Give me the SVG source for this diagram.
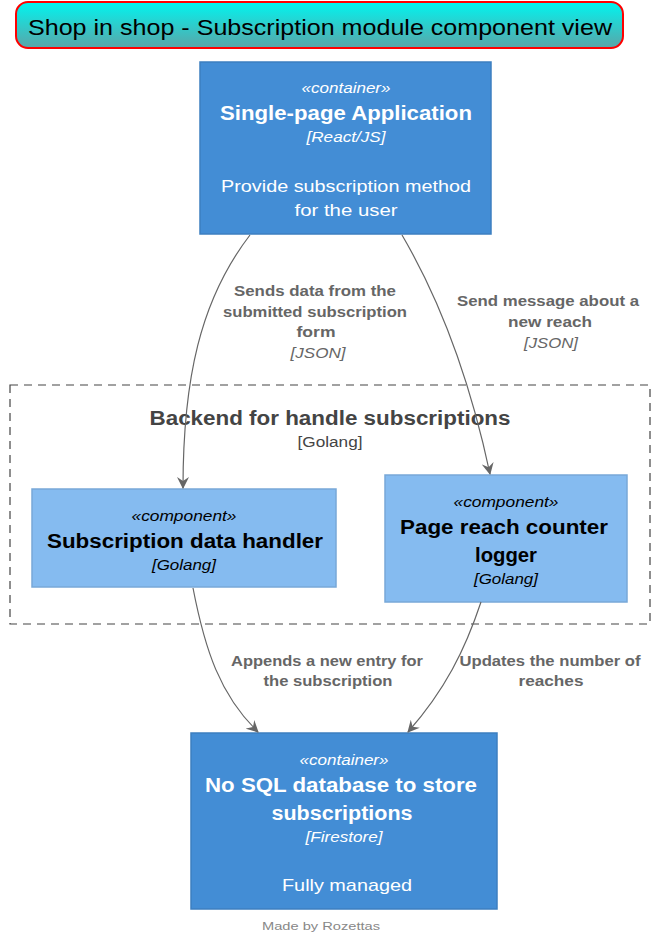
<svg xmlns="http://www.w3.org/2000/svg" width="657" height="941" viewBox="0 0 657 941">
<defs>
<linearGradient id="tg" x1="0" y1="0" x2="0" y2="1">
<stop offset="0" stop-color="#00f5f0"/>
<stop offset="1" stop-color="#5aa5a8"/>
</linearGradient>
<marker id="ah" viewBox="0 0 12 12" refX="11" refY="6" markerWidth="12" markerHeight="12" markerUnits="userSpaceOnUse" orient="auto">
<path d="M0,0 L12,6 L0,12 L4,6 Z" fill="#666666"/>
</marker>
<style>
text{font-family:"Liberation Sans",Arial,sans-serif;text-anchor:middle}
.cont{fill:#438dd5;stroke:#3c7fc0;stroke-width:1.5}
.comp{fill:#85bbf0;stroke:#78a8d8;stroke-width:1.5}
.st{font-size:14px;font-style:italic}
.nm{font-size:20px;font-weight:bold}
.tech{font-size:14px;font-style:italic}
.desc{font-size:17px}
.w{fill:#ffffff}
.k{fill:#000000}
.lbl{font-size:15px;font-weight:bold;fill:#666666}
.lbt{font-size:14px;font-style:italic;fill:#666666}
.edge{fill:none;stroke:#666666;stroke-width:1.2;marker-end:url(#ah)}
</style>
</defs>
<rect width="657" height="941" fill="#ffffff"/>
<g id="title">
<rect x="16" y="2" width="607" height="46" rx="12" fill="url(#tg)" stroke="#ff0000" stroke-width="2"/>
<text x="320" y="35" font-size="22" fill="#000" textLength="584" lengthAdjust="spacingAndGlyphs">Shop in shop - Subscription module component view</text>
</g>
<g id="boundary">
<rect x="10" y="385" width="640" height="239" fill="none" stroke="#444444" stroke-width="1.2" stroke-dasharray="8,6"/>
<text x="330" y="425" font-size="20" font-weight="bold" fill="#444444" textLength="361" lengthAdjust="spacingAndGlyphs">Backend for handle subscriptions</text>
<text x="330" y="447" font-size="14" fill="#444444" textLength="65" lengthAdjust="spacingAndGlyphs">[Golang]</text>
</g>
<g id="spa">
<rect class="cont" x="200" y="62" width="291" height="172"/>
<text class="st w" x="346" y="93" textLength="89" lengthAdjust="spacingAndGlyphs">«container»</text>
<text class="nm w" x="346" y="120" textLength="252" lengthAdjust="spacingAndGlyphs">Single-page Application</text>
<text class="tech w" x="346" y="142" textLength="79" lengthAdjust="spacingAndGlyphs">[React/JS]</text>
<text class="desc w" x="346" y="192" textLength="250" lengthAdjust="spacingAndGlyphs">Provide subscription method</text>
<text class="desc w" x="346" y="216" textLength="103" lengthAdjust="spacingAndGlyphs">for the user</text>
</g>
<g id="handler">
<rect class="comp" x="32" y="489" width="304" height="98"/>
<text class="st k" x="184" y="521" textLength="105" lengthAdjust="spacingAndGlyphs">«component»</text>
<text class="nm k" x="185" y="548" textLength="276" lengthAdjust="spacingAndGlyphs">Subscription data handler</text>
<text class="tech k" x="184" y="570" textLength="64" lengthAdjust="spacingAndGlyphs">[Golang]</text>
</g>
<g id="logger">
<rect class="comp" x="385" y="475" width="242" height="127"/>
<text class="st k" x="506" y="507" textLength="105" lengthAdjust="spacingAndGlyphs">«component»</text>
<text class="nm k" x="504" y="534" textLength="208" lengthAdjust="spacingAndGlyphs">Page reach counter</text>
<text class="nm k" x="506" y="562" textLength="62" lengthAdjust="spacingAndGlyphs">logger</text>
<text class="tech k" x="506" y="584" textLength="64" lengthAdjust="spacingAndGlyphs">[Golang]</text>
</g>
<g id="db">
<rect class="cont" x="191" y="733" width="306" height="176"/>
<text class="st w" x="344" y="765" textLength="89" lengthAdjust="spacingAndGlyphs">«container»</text>
<text class="nm w" x="341" y="792" textLength="272" lengthAdjust="spacingAndGlyphs">No SQL database to store</text>
<text class="nm w" x="342" y="820" textLength="141" lengthAdjust="spacingAndGlyphs">subscriptions</text>
<text class="tech w" x="344" y="842" textLength="77" lengthAdjust="spacingAndGlyphs">[Firestore]</text>
<text class="desc w" x="347" y="891" textLength="130" lengthAdjust="spacingAndGlyphs">Fully managed</text>
</g>
<g id="connectors">
<path class="edge" d="M250,235 C200,300 183,380 183,488"/>
<path class="edge" d="M402,235 C440,300 470,380 490,474"/>
<path class="edge" d="M193,588 C205,650 220,695 258,732"/>
<path class="edge" d="M481,602 C465,650 445,690 408,732"/>
<text class="lbl" x="315" y="296" textLength="162" lengthAdjust="spacingAndGlyphs">Sends data from the</text>
<text class="lbl" x="315" y="317" textLength="184" lengthAdjust="spacingAndGlyphs">submitted subscription</text>
<text class="lbl" x="316" y="337" textLength="39" lengthAdjust="spacingAndGlyphs">form</text>
<text class="lbt" x="318" y="358" textLength="55" lengthAdjust="spacingAndGlyphs">[JSON]</text>
<text class="lbl" x="548" y="306" textLength="182" lengthAdjust="spacingAndGlyphs">Send message about a</text>
<text class="lbl" x="550" y="327" textLength="84" lengthAdjust="spacingAndGlyphs">new reach</text>
<text class="lbt" x="551" y="348" textLength="54" lengthAdjust="spacingAndGlyphs">[JSON]</text>
<text class="lbl" x="327" y="666" textLength="192" lengthAdjust="spacingAndGlyphs">Appends a new entry for</text>
<text class="lbl" x="328" y="686" textLength="129" lengthAdjust="spacingAndGlyphs">the subscription</text>
<text class="lbl" x="550" y="666" textLength="181" lengthAdjust="spacingAndGlyphs">Updates the number of</text>
<text class="lbl" x="551" y="686" textLength="65" lengthAdjust="spacingAndGlyphs">reaches</text>
</g>
<g id="footer">
<text x="321" y="930" font-size="11" fill="#888888" textLength="118" lengthAdjust="spacingAndGlyphs">Made by Rozettas</text>
</g>
</svg>
